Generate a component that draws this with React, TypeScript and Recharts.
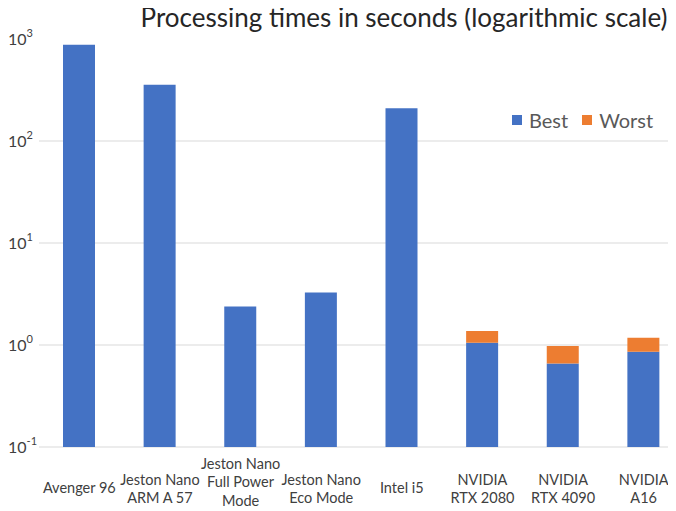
import React from 'react';
import { BarChart, Bar, XAxis, YAxis, CartesianGrid, Legend } from 'recharts';

const devices = [
  'Avenger 96',
  'Jeston Nano\nARM A 57',
  'Jeston Nano\nFull Power\nMode',
  'Jeston Nano\nEco Mode',
  'Intel i5',
  'NVIDIA\nRTX 2080',
  'NVIDIA\nRTX 4090',
  'NVIDIA\nA16',
];
const bestTimes = [880, 357, 2.38, 3.27, 210, 1.05, 0.66, 0.86];
const worstTimes = [880, 357, 2.38, 3.27, 210, 1.37, 0.98, 1.18];
const yTicks = [0.1, 1, 10, 100, 1000];
const yExponents = ['-1', '0', '1', '2', '3'];

// worst is drawn stacked on top of best, so keep only the extra part
const data = devices.map((name, i) => ({
  name,
  best: bestTimes[i],
  worst: Math.max(worstTimes[i] - bestTimes[i], 0),
}));

const FONT = 'Lato, "Open Sans", sans-serif';
const TEXT = '#404040';

const YTick = (props: any) => {
  const idx = yTicks.indexOf(props.payload.value);
  return (
    <text x={0} y={props.y + 6} fill={TEXT} fontFamily={FONT} fontSize={16} textAnchor="start">
      10
      <tspan dy={-8} fontSize={11}>{yExponents[idx]}</tspan>
    </text>
  );
};

// first-line offset below the axis, by number of lines
const firstLineOffset = [0, 32, 24, 8];

const XTick = (props: any) => {
  const lines = String(props.payload.value).split('\n');
  const lineH = 18.5;
  const start = props.y + firstLineOffset[lines.length];
  return (
    <text fill={TEXT} fontFamily={FONT} fontSize={14.5} textAnchor="middle">
      {lines.map((l, i) => (
        <tspan key={i} x={props.x} y={start + i * lineH} dominantBaseline="central">
          {l}
        </tspan>
      ))}
    </text>
  );
};

const LegendBox = (props: any) => (
  <div style={{ display: 'flex', alignItems: 'center', fontSize: 20, color: '#595959', height: 0, overflow: 'visible' }}>
    {props.payload.map((p: any) => (
      <span key={p.value} style={{ display: 'flex', alignItems: 'center', marginRight: 14, whiteSpace: 'nowrap' }}>
        <span style={{ display: 'inline-block', width: 10, height: 10, background: p.color, marginRight: 7 }} />
        {p.value}
      </span>
    ))}
  </div>
);

export default function App() {
  return (
    <div style={{ position: 'relative', marginTop: -8, width: 668, height: 511, overflow: 'hidden', fontFamily: FONT }}>
      <div
        style={{
          position: 'absolute',
          left: 126,
          top: 0,
          width: 540,
          textAlign: 'center',
          fontSize: 26,
          color: '#262626',
          lineHeight: '34px',
          whiteSpace: 'nowrap',
          zIndex: 1,
        }}
      >
        Processing times in seconds (logarithmic scale)
      </div>
      <BarChart
        width={680}
        height={511}
        data={data}
        margin={{ top: 39, right: 4, left: 0, bottom: 0 }}
        barSize={32}
      >
        <CartesianGrid horizontal vertical={false} stroke="#d9d9d9" horizontalValues={[0.1, 1, 10, 100]} />
        <XAxis dataKey="name" interval={0} axisLine={false} tickLine={false} height={64} tick={<XTick />} />
        <YAxis
          scale="log"
          domain={[0.1, 1000]}
          allowDataOverflow
          ticks={yTicks}
          width={31}
          axisLine={false}
          tickLine={false}
          tick={<YTick />}
        />
        <Legend
          verticalAlign="top"
          align="left"
          content={<LegendBox />}
          wrapperStyle={{ top: 120, left: 504, width: 170, height: 0 }}
        />
        <Bar dataKey="best" name="Best" stackId="t" fill="#4472C4" isAnimationActive={false} />
        <Bar dataKey="worst" name="Worst" stackId="t" fill="#ED7D31" isAnimationActive={false} />
      </BarChart>
    </div>
  );
}
